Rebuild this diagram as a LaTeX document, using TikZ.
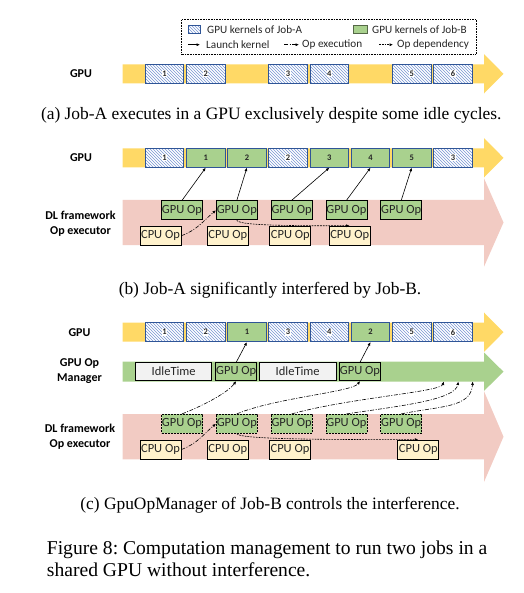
\documentclass[tikz,border=0pt]{standalone}
\usepackage{fontspec}
\setmainfont{Liberation Serif}
\newfontfamily\carlito{Carlito}
\usetikzlibrary{arrows.meta,patterns}
\definecolor{kyellow}{RGB}{255,217,102}
\definecolor{kpink}{RGB}{242,203,195}
\definecolor{kgreen}{RGB}{169,209,142}
\definecolor{kblue}{RGB}{47,85,151}
\definecolor{khatch}{RGB}{120,150,210}
\definecolor{kcpu}{RGB}{255,242,204}
\definecolor{kidle}{RGB}{242,242,242}
\definecolor{ktext}{RGB}{38,38,38}
\frenchspacing

\begin{document}
\begin{tikzpicture}[x=1pt, y=-1pt, >={Latex[length=3.5pt,width=3pt]},
  every node/.style={font=\carlito\fontsize{12.5}{15}\selectfont, text=ktext, inner sep=0pt},
  kerA/.style={draw=kblue, line width=0.8pt, preaction={fill=white}, pattern=north west lines, pattern color=khatch, minimum width=38.5, minimum height=19},
  kerB/.style={draw=kblue, line width=0.8pt, fill=kgreen, minimum width=38.5, minimum height=19, font=\carlito\bfseries\fontsize{8.5}{9}\selectfont},
  knum/.style={fill=white, inner sep=0.6pt, font=\carlito\bfseries\fontsize{8.5}{9}\selectfont},
  gpuop/.style={draw=black, line width=0.8pt, fill=kgreen, minimum width=41, minimum height=19},
  gpuopd/.style={gpuop, dash pattern=on 2pt off 1pt},
  cpuop/.style={draw=black, line width=0.8pt, fill=kcpu, minimum width=41, minimum height=19},
  idlebox/.style={draw=black, line width=0.8pt, fill=kidle, minimum width=76, minimum height=18},
  rowlabel/.style={font=\carlito\bfseries\fontsize{12}{15}\selectfont, align=center, text=black},
  legtext/.style={anchor=west, font=\carlito\fontsize{11.2}{13}\selectfont, text=ktext},
  caption/.style={font=\fontsize{17.4}{21}\selectfont, text=black},
  launch/.style={->, line width=0.6pt},
  opexec/.style={->, line width=0.6pt, dash pattern=on 4pt off 1.5pt on 1pt off 1.5pt},
  opdep/.style={->, line width=0.6pt, dash pattern=on 1.8pt off 1pt}]
\useasboundingbox (0,0) rectangle (523,593);

% legend
\node[draw=black, densely dotted, line width=0.6pt, minimum width=294.3, minimum height=34.7] (legend) at (328.85,36.65) {};
\node[kerA, minimum width=12, minimum height=7.6, line width=0.6pt] (legA) at (194,29.5) {};
\node[legtext] (legAtxt) at (207,29.5) {GPU kernels of Job-A};
\node[kerB, minimum width=14, minimum height=7.6, draw=kgreen!50!black, line width=0.6pt] (legB) at (360,29.5) {};
\node[legtext] (legBtxt) at (372,29.5) {GPU kernels of Job-B};
\coordinate (legL0) at (188,44.7); \coordinate (legL1) at (200,44.7);
\coordinate (legE0) at (284,44.7); \coordinate (legE1) at (299,44.7);
\coordinate (legD0) at (379,44.7); \coordinate (legD1) at (393,44.7);
\draw[launch] (legL0) -- (legL1);
\draw[opexec] (legE0) -- (legE1);
\draw[opdep] (legD0) -- (legD1);
\node[legtext] (legLtxt) at (206,44.7) {Launch kernel};
\node[legtext] (legEtxt) at (302,44.7) {Op execution};
\node[legtext] (legDtxt) at (397,44.7) {Op dependency};

% (a) GPU only
\fill[kyellow] (122.7,64.3) -- (484,64.3) -- (484,54.1) -- (503.5,73.8) -- (484,93.5) -- (484,83.3) -- (122.7,83.3) -- cycle;
\node[rowlabel] (gpua) at (81,73.8) {GPU};
\foreach \n/\s in {1/1,2/2,3/4,4/5,5/7,6/8}
  \node[kerA, label={[knum]center:\n}] (aA\n) at ({164.5+41.2*(\s-1)},73.8) {};
\node[caption] (capa) at (271.3,115) {(a) Job-A executes in a GPU exclusively despite some idle cycles.};

% (b) interference
\fill[kyellow] (122.7,148.3) -- (484,148.3) -- (484,138.1) -- (503.5,157.8) -- (484,177.5) -- (484,167.3) -- (122.7,167.3) -- cycle;
\fill[kpink] (122.7,200) -- (484,200) -- (484,178.3) -- (503.5,222.5) -- (484,266.7) -- (484,245) -- (122.7,245) -- cycle;
\node[rowlabel] (gpub) at (81,157.8) {GPU};
\node[rowlabel] (exb) at (80.5,223.8) {DL framework\\Op executor};
\foreach \n/\s in {1/1,2/4,3/8}
  \node[kerA, label={[knum]center:\n}] (bA\n) at ({164.5+41.2*(\s-1)},157.8) {};
\foreach \n/\s in {1/2,2/3,3/5,4/6,5/7}
  \node[kerB] (bB\n) at ({164.5+41.2*(\s-1)},157.8) {\n};
\foreach \i in {1,...,5}
  \node[gpuop] (gb\i) at ({182+54.8*(\i-1)},210.3) {GPU Op};
\foreach \i/\x in {1/160.5,2/227.8,3/290.3,4/349.7}
  \node[cpuop] (cb\i) at (\x,235.7) {CPU Op};
\foreach \i in {1,...,5}
  \draw[launch] (gb\i.north) -- (bB\i.south);
\draw[opexec] (cb1.east) to[out=20,in=220] (gb2.west);
\draw[opdep] (gb2.south) .. controls +(2,5) and +(-70,0) .. (cb4.north);
\node[caption] (capb) at (270,290) {(b) Job-A significantly interfered by Job-B.};

% (c) GpuOpManager
\fill[kyellow] (122.7,322.7) -- (484,322.7) -- (484,312.5) -- (503.5,332.2) -- (484,351.9) -- (484,341.7) -- (122.7,341.7) -- cycle;
\fill[kgreen] (122.7,361.7) -- (484,361.7) -- (484,352.5) -- (503.5,371.7) -- (484,390.9) -- (484,381.7) -- (122.7,381.7) -- cycle;
\fill[kpink] (122.7,414) -- (484,414) -- (484,391.2) -- (503.5,436.7) -- (484,482) -- (484,459.3) -- (122.7,459.3) -- cycle;
\node[rowlabel] (gpuc) at (79.5,332.2) {GPU};
\node[rowlabel] (mgrc) at (79.5,370.8) {GPU Op\\Manager};
\node[rowlabel] (exc) at (80,436.5) {DL framework\\Op executor};
\foreach \n/\s in {1/1,2/2,3/4,4/5,5/7,6/8}
  \node[kerA, label={[knum]center:\n}] (cA\n) at ({164.5+41.2*(\s-1)},332.2) {};
\foreach \n/\s in {1/3,2/6}
  \node[kerB] (cB\n) at ({164.5+41.2*(\s-1)},332.2) {\n};
\node[idlebox] (idle1) at (173.7,371.7) {IdleTime};
\node[gpuop, minimum height=18] (mg1) at (236.2,371.7) {GPU Op};
\node[idlebox, minimum width=76.7] (idle2) at (297.7,371.7) {IdleTime};
\node[gpuop, minimum height=18] (mg2) at (360,371.7) {GPU Op};
\foreach \i in {1,...,5}
  \node[gpuopd] (gc\i) at ({182+54.8*(\i-1)},423.8) {GPU Op};
\foreach \i/\x in {1/160.5,2/227.8,3/290,4/418.3}
  \node[cpuop] (cc\i) at (\x,449.5) {CPU Op};
\coordinate (m3) at (444,381.5);
\coordinate (m4) at (458.3,381.5);
\coordinate (m5) at (472.7,381.5);
\draw[launch] (mg1.north) -- (cB1.south);
\draw[launch] (mg2.north) -- (cB2.south);
\draw[opexec] (gc1.north) .. controls +(23,-9) and +(-8,11) .. (mg1.south);
\draw[opexec] (gc2.north) .. controls +(38,-16) and +(-8,11) .. (mg2.south);
\draw[opexec] (gc3.north) .. controls +(58,-16) and +(-4,10.5) .. (m3);
\draw[opexec] (gc4.north) .. controls +(54,-8) and +(-3,18.5) .. (m4);
\draw[opexec] (gc5.north) .. controls +(39,-8) and +(-1.7,26.5) .. (m5);
\draw[opexec] (cc1.east) to[out=20,in=220] (gc2.west);
\draw[opdep] (gc2.south) .. controls +(2,6) and +(-80,0) .. (cc4.north);
\node[caption] (capc) at (270,505) {(c) GpuOpManager of Job-B controls the interference.};

\node[caption, font=\fontsize{19.6}{22.5}\selectfont, anchor=west, align=left] (fig) at (46.7,559) {Figure 8: Computation management to run two jobs in a\\shared GPU without interference.};
\end{tikzpicture}
\end{document}
